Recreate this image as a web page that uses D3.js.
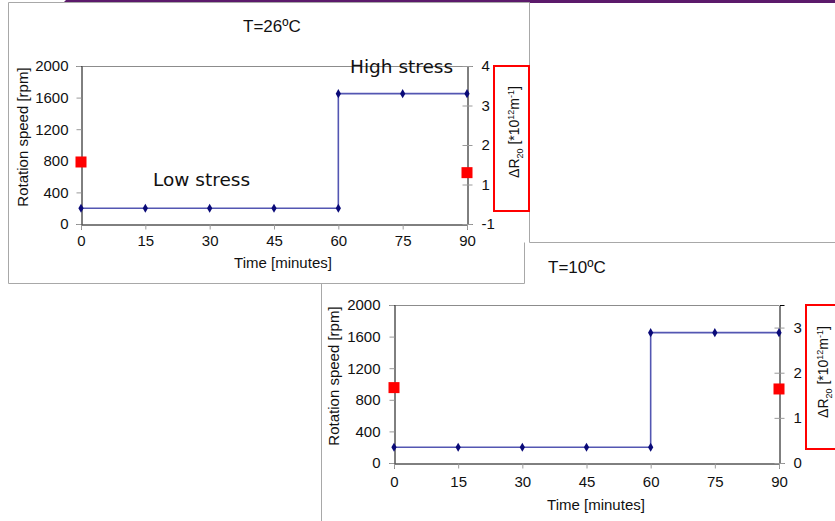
<!DOCTYPE html>
<html>
<head>
<meta charset="utf-8">
<script src="https://cdn.jsdelivr.net/npm/d3@7"></script>
<style>
  html, body { margin: 0; padding: 0; background: #ffffff; }
  svg { display: block; font-family: Arial, "Liberation Sans", sans-serif; }
</style>
</head>
<body>
<svg id="fig" width="835" height="521"></svg>
<script>
// Time axis (minutes) and the stepped rotation-speed profile
const timeTicks = [0, 15, 30, 45, 60, 75, 90];
const stepTimes = [0, 15, 30, 45, 60, 60, 75, 90];
const rpmAt26 = [200, 200, 200, 200, 200, 1650, 1650, 1650];
const rpmAt10 = [200, 200, 200, 200, 200, 1650, 1650, 1650];
const rpmTicks = [0, 400, 800, 1200, 1600, 2000];

// Change in resistance ΔR20 measured at start and end
const dRTimes = [0, 90];
const dRAt26 = [1.57, 1.30];
const dRAt10 = [1.67, 1.64];

// Secondary axis ticks and their printed labels
const rightTicks26 = [0, 1, 2, 3, 4];
const rightLabels26 = ["-1", "1", "2", "3", "4"];
const rightTicks10 = [0, 1, 2, 3];
const rightLabels10 = ["0", "1", "2", "3"];

const FONT = "Arial, 'Liberation Sans', sans-serif";
const svg = d3.select("#fig");

// Slide decoration: purple rule and panel frames
svg.append("path").attr("d", "M63,3 L66,0 L835,0 L835,3 Z").attr("fill", "#5c1a6b");
const frame = "#a8a8a8";
svg.append("path")
  .attr("d", "M8.5,283.5 L8.5,2.5 L529.5,2.5 L529.5,242.5 L835,242.5")
  .attr("fill", "none").attr("stroke", frame);
svg.append("path")
  .attr("d", "M8.5,283.5 L524.5,283.5 L524.5,242.5")
  .attr("fill", "none").attr("stroke", frame);
svg.append("path")
  .attr("d", "M321.5,283.5 L321.5,521")
  .attr("fill", "none").attr("stroke", frame);

function styleText(sel) {
  sel.attr("font-size", 15).attr("fill", "#111").attr("font-family", FONT);
}

function drawChart(cfg) {
  const g = svg.append("g");
  const x = d3.scaleLinear().domain([0, 90]).range([cfg.left, cfg.right]);
  const y = d3.scaleLinear().domain([0, 2000]).range([cfg.bottom, cfg.top]);
  const y2 = d3.scaleLinear().domain(cfg.y2Domain).range([cfg.bottom, cfg.top]);

  // plot area top border
  g.append("line")
    .attr("x1", cfg.left).attr("x2", cfg.right)
    .attr("y1", cfg.top + 0.5).attr("y2", cfg.top + 0.5)
    .attr("stroke", "#8c8c8c");

  // left axis
  const yAxis = d3.axisLeft(y).tickValues(rpmTicks).tickFormat(d3.format("d"))
    .tickSize(5).tickPadding(cfg.yPad);
  const ya = g.append("g").attr("transform", `translate(${cfg.left + 0.5},0)`).call(yAxis);
  ya.select(".domain").attr("stroke", "#000");
  ya.selectAll(".tick line").attr("stroke", "#9a9a9a");
  ya.selectAll("text").call(styleText);

  // bottom axis
  const xAxis = d3.axisBottom(x).tickValues(timeTicks).tickFormat(d3.format("d"))
    .tickSize(5).tickPadding(cfg.xPad);
  const xa = g.append("g").attr("transform", `translate(0,${cfg.bottom + 0.5})`).call(xAxis);
  xa.select(".domain").attr("stroke", "#000");
  xa.selectAll(".tick line").attr("stroke", "#9a9a9a");
  xa.selectAll("text").call(styleText);

  // right (secondary) axis with crossing ticks
  const y2Axis = d3.axisRight(y2).tickValues(cfg.rTicks)
    .tickFormat((d, i) => cfg.rLabels[i]).tickSize(5).tickPadding(9);
  const ra = g.append("g").attr("transform", `translate(${cfg.right + 0.5},0)`).call(y2Axis);
  ra.select(".domain").attr("stroke", "#000");
  ra.selectAll(".tick line").attr("x1", -5).attr("stroke", "#9a9a9a");
  ra.selectAll("text").call(styleText);

  // stepped speed profile
  const pts = stepTimes.map((t, i) => [t, cfg.rpm[i]]);
  const line = d3.line().x(d => x(d[0])).y(d => y(d[1]));
  g.append("path").datum(pts).attr("d", line)
    .attr("fill", "none").attr("stroke", "#5356b2").attr("stroke-width", 1.6);
  const diamond = d3.symbol().type(d3.symbolDiamond).size(24);
  g.selectAll(".mk").data(pts).enter().append("path")
    .attr("d", diamond)
    .attr("transform", d => `translate(${x(d[0])},${y(d[1])})`)
    .attr("fill", "#0a0a78");

  // ΔR20 squares on the secondary axis
  g.selectAll(".sq").data(dRTimes.map((t, i) => [t, cfg.dR[i]])).enter().append("rect")
    .attr("x", d => x(d[0]) - 5.5).attr("y", d => y2(d[1]) - 5.5)
    .attr("width", 11).attr("height", 11).attr("fill", "#ff0000");

  // titles
  g.append("text").attr("x", cfg.titleX).attr("y", cfg.titleY)
    .attr("font-size", 17).attr("fill", "#111").attr("font-family", FONT)
    .text(cfg.title);

  g.append("text")
    .attr("transform", `translate(${cfg.yTitle[0]},${cfg.yTitle[1]}) rotate(-90)`)
    .attr("text-anchor", "middle").call(styleText)
    .text("Rotation speed [rpm]");

  g.append("text").attr("x", cfg.xTitle[0]).attr("y", cfg.xTitle[1])
    .attr("text-anchor", "middle").call(styleText)
    .text("Time [minutes]");

  // boxed secondary-axis title
  g.append("rect").attr("x", cfg.box[0]).attr("y", cfg.box[1])
    .attr("width", cfg.box[2]).attr("height", cfg.box[3])
    .attr("fill", "none").attr("stroke", "#ff0000").attr("stroke-width", 2);
  const t = g.append("text")
    .attr("transform", `translate(${cfg.rTitle[0]},${cfg.rTitle[1]}) rotate(-90)`)
    .attr("text-anchor", "middle").call(styleText).attr("font-size", 14);
  t.append("tspan").text("ΔR");
  t.append("tspan").attr("font-size", 9).attr("dy", 4).text("20");
  t.append("tspan").attr("dy", -4).text(" [*10");
  t.append("tspan").attr("font-size", 9).attr("dy", -5).text("12");
  t.append("tspan").attr("dy", 5).text("m");
  t.append("tspan").attr("font-size", 9).attr("dy", -5).text("-1");
  t.append("tspan").attr("dy", 5).text("]");
  return { g, x, y };
}

const top26 = drawChart({
  left: 81, right: 467, top: 66, bottom: 224,
  y2Domain: [0, 4], rTicks: rightTicks26, rLabels: rightLabels26,
  rpm: rpmAt26, dR: dRAt26, xPad: 6, yPad: 8,
  title: "T=26ºC", titleX: 243, titleY: 32,
  yTitle: [28, 137], xTitle: [283, 268],
  box: [494, 66, 35, 145], rTitle: [519, 132]
});

const bottom10 = drawChart({
  left: 394, right: 779, top: 305, bottom: 463,
  y2Domain: [0, 3.5], rTicks: rightTicks10, rLabels: rightLabels10,
  rpm: rpmAt10, dR: dRAt10, xPad: 8, yPad: 9,
  title: "T=10ºC", titleX: 548, titleY: 273,
  yTitle: [339, 376], xTitle: [596, 510],
  box: [806, 305, 40, 144], rTitle: [828, 372]
});

// stress annotations
const NOTE_FONT = "'DejaVu Sans', Verdana, sans-serif";
top26.g.append("text").attr("x", 153).attr("y", 186)
  .attr("font-family", NOTE_FONT).attr("font-size", 18.5).attr("fill", "#111")
  .text("Low stress");
top26.g.append("text").attr("x", 350).attr("y", 73)
  .attr("font-family", NOTE_FONT).attr("font-size", 18.5).attr("fill", "#111")
  .text("High stress");
</script>
</body>
</html>
